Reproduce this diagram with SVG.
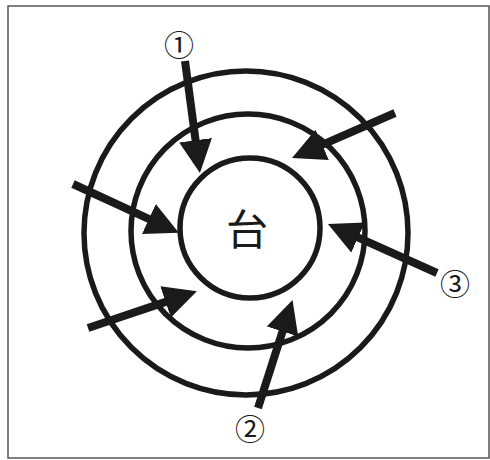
<svg xmlns="http://www.w3.org/2000/svg" width="490" height="460" viewBox="0 0 490 460">
  <style>
    .ring { fill: none; stroke: #1a1a1a; stroke-width: 5.5; }
    .arrow { stroke: #1a1a1a; stroke-width: 8; fill: none; marker-end: url(#head); }
    .num { font-family: "Noto Sans CJK JP", "Liberation Sans", sans-serif; font-size: 30px; fill: #1a1a1a; text-anchor: middle; dominant-baseline: central; }
    .center { font-family: "Noto Sans CJK JP", sans-serif; font-size: 42px; fill: #1a1a1a; text-anchor: middle; dominant-baseline: central; }
  </style>
  <defs>
    <marker id="head" viewBox="0 0 33 33" refX="4" refY="16.5" markerWidth="33" markerHeight="33" markerUnits="userSpaceOnUse" orient="auto">
      <path d="M0,0 L33,16.5 L0,33 Z" fill="#1a1a1a"/>
    </marker>
  </defs>
  <rect x="8" y="6" width="481" height="452" fill="#ffffff" stroke="#555" stroke-width="1.5"/>
  <g id="outer-ring"><circle class="ring" cx="246" cy="233" r="162"/></g>
  <g id="middle-ring"><circle class="ring" cx="248" cy="231" r="117"/></g>
  <g id="inner-ring"><circle class="ring" cx="250" cy="228" r="70"/></g>
  <g id="center-label"><text class="center" x="247" y="226">台</text></g>
  <g id="connectors">
    <line class="arrow" x1="185" y1="61" x2="196.1" y2="144.2"/>
    <line class="arrow" x1="395" y1="113" x2="318.6" y2="146.4"/>
    <line class="arrow" x1="437" y1="273" x2="354.4" y2="235.9"/>
    <line class="arrow" x1="73" y1="184" x2="152.5" y2="220.7"/>
    <line class="arrow" x1="88" y1="328" x2="169.4" y2="300.6"/>
    <line class="arrow" x1="258" y1="408" x2="283.7" y2="327.7"/>
  </g>
  <g id="label-1"><text class="num" x="179" y="43">①</text></g>
  <g id="label-2"><text class="num" x="250" y="427">②</text></g>
  <g id="label-3"><text class="num" x="455" y="282">③</text></g>
</svg>
